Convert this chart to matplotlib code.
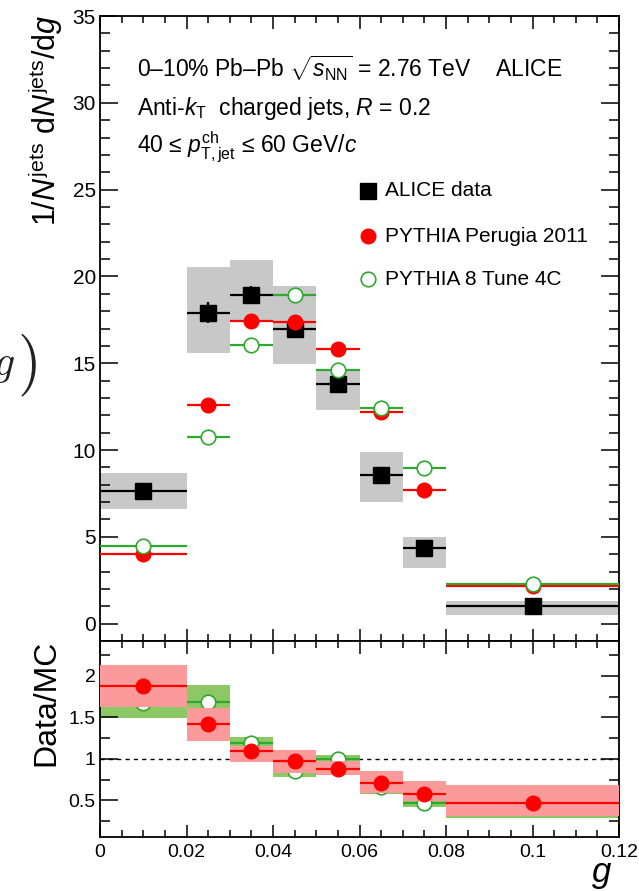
import numpy as np
import matplotlib
matplotlib.use("Agg")
import matplotlib.pyplot as plt
from matplotlib.ticker import MultipleLocator, FuncFormatter

plt.rcParams['font.family'] = ['Liberation Sans', 'DejaVu Sans']
plt.rcParams['mathtext.fontset'] = 'custom'
plt.rcParams['mathtext.rm'] = 'Liberation Sans'
plt.rcParams['mathtext.it'] = 'Liberation Sans:italic'
plt.rcParams['mathtext.bf'] = 'Liberation Sans:bold'

# bins in g
edges = [0, 0.02, 0.03, 0.04, 0.05, 0.06, 0.07, 0.08, 0.12]
centers = [0.01, 0.025, 0.035, 0.045, 0.055, 0.065, 0.075, 0.1]

# ALICE data, 1/N dN/dg
alice = [7.64, 17.9, 18.95, 16.98, 13.8, 8.55, 4.37, 1.0]
alice_stat = [0.25, 0.6, 0.5, 0.55, 0.4, 0.3, 0.2, 0.1]
alice_sys_up = [1.06, 2.65, 2.02, 2.45, 0.79, 1.31, 0.62, 0.29]
alice_sys_dn = [1.01, 2.32, 1.45, 2.0, 1.52, 1.54, 1.15, 0.5]

# MC predictions
perugia = [4.03, 12.59, 17.46, 17.37, 15.81, 12.17, 7.68, 2.15]
tune4c = [4.45, 10.76, 16.06, 18.95, 14.62, 12.44, 8.99, 2.29]

# Data/MC ratios with systematic band limits
ratio_perugia = [1.875, 1.42, 1.09, 0.97, 0.876, 0.71, 0.58, 0.47]
ratio_perugia_stat = [0.08, 0.05, 0.04, 0.03, 0.03, 0.03, 0.03, 0.03]
ratio_perugia_lo = [1.62, 1.21, 0.96, 0.83, 0.81, 0.59, 0.49, 0.31]
ratio_perugia_hi = [2.13, 1.61, 1.16, 1.11, 0.98, 0.85, 0.73, 0.69]

ratio_tune4c = [1.67, 1.68, 1.19, 0.85, 1.0, 0.66, 0.47, 0.44]
ratio_tune4c_lo = [1.49, 1.46, 1.08, 0.78, 0.93, 0.58, 0.42, 0.29]
ratio_tune4c_hi = [1.87, 1.89, 1.27, 0.93, 1.05, 0.76, 0.55, 0.6]

gray = '#c8c8c8'
red = '#ff0000'
green = '#2fa82f'
red_band = '#fa9a9a'
green_band = '#8cc863'

edges = np.array(edges)
lefts = edges[:-1]
widths = np.diff(edges)
halfw = widths / 2

fig = plt.figure(figsize=(6.39, 8.91), dpi=100)
ax = fig.add_axes([100/639, 1-641/891, 519/639, 625/891])
axr = fig.add_axes([100/639, 1-837/891, 519/639, 196/891])

# ---- top panel ----
lo = np.array(alice) - np.array(alice_sys_dn)
hi = np.array(alice) + np.array(alice_sys_up)
ax.bar(lefts, hi - lo, width=widths, bottom=lo, align='edge', color=gray, lw=0, zorder=1)
ax.errorbar(centers, alice, xerr=halfw, yerr=alice_stat, fmt='s', color='black',
            ms=12, lw=1.6, capsize=0, zorder=3)
ax.errorbar(centers, perugia, xerr=halfw, fmt='o', color=red, ms=10.5, lw=1.6,
            capsize=0, zorder=4)
ax.errorbar(centers, tune4c, xerr=halfw, fmt='o', color=green, mfc='white', mec=green,
            mew=1.2, ms=10.5, lw=1.6, capsize=0, zorder=4)

ax.set_xlim(0, 0.12)
ax.set_ylim(-1, 35)
ax.yaxis.set_major_locator(MultipleLocator(5))
ax.yaxis.set_minor_locator(MultipleLocator(1))
ax.xaxis.set_major_locator(MultipleLocator(0.02))
ax.xaxis.set_minor_locator(MultipleLocator(0.005))
ax.tick_params(which='both', direction='in', top=True, right=True, labelbottom=False,
               labelsize=15, width=1.1, pad=3)
ax.tick_params(axis='y', which='major', length=13)
ax.tick_params(axis='y', which='minor', length=7)
ax.tick_params(axis='x', which='major', length=9)
ax.tick_params(axis='x', which='minor', length=5)

tfs = 16.5
ax.text(0.071, 0.902, r"0–10% Pb–Pb $\sqrt{s_{\rm NN}}$ = 2.76 TeV    ALICE",
        transform=ax.transAxes, fontsize=tfs, va='baseline')
ax.text(0.071, 0.842, r"Anti-$k_{\rm T}$  charged jets, $R$ = 0.2",
        transform=ax.transAxes, fontsize=tfs, va='baseline')
ax.text(0.071, 0.781, r"40 ≤ $p_{\rm T,jet}^{\rm ch}$ ≤ 60 GeV/$c$",
        transform=ax.transAxes, fontsize=tfs, va='baseline')

# legend
leg_x, leg_tx = 0.516, 0.549
ax.plot([leg_x], [0.72], 's', color='black', ms=12, transform=ax.transAxes)
ax.plot([leg_x], [0.648], 'o', color=red, ms=10.5, transform=ax.transAxes)
ax.plot([leg_x], [0.579], 'o', mfc='white', mec=green, mew=1.2, ms=10.5, transform=ax.transAxes)
ax.text(leg_tx, 0.72, "ALICE data", transform=ax.transAxes, fontsize=15, va='center')
ax.text(leg_tx, 0.648, "PYTHIA Perugia 2011", transform=ax.transAxes, fontsize=15, va='center')
ax.text(leg_tx, 0.579, "PYTHIA 8 Tune 4C", transform=ax.transAxes, fontsize=15, va='center')

# ---- ratio panel ----
glo = np.array(ratio_tune4c_lo)
ghi = np.array(ratio_tune4c_hi)
rlo = np.array(ratio_perugia_lo)
rhi = np.array(ratio_perugia_hi)
axr.axhline(1, color='black', ls=(0, (3, 3)), lw=1.0, zorder=0)
axr.bar(lefts, ghi - glo, width=widths, bottom=glo, align='edge', color=green_band, lw=0, zorder=1)
axr.errorbar(centers, ratio_tune4c, xerr=halfw, fmt='o', color=green, mfc='white', mec=green,
             mew=1.2, ms=10.5, lw=1.6, capsize=0, zorder=2)
axr.bar(lefts, rhi - rlo, width=widths, bottom=rlo, align='edge', color=red_band, lw=0, zorder=3)
axr.errorbar(centers, ratio_perugia, xerr=halfw, yerr=ratio_perugia_stat, fmt='o', color=red,
             ms=10.5, lw=1.6, capsize=0, zorder=4)

axr.set_xlim(0, 0.12)
axr.set_ylim(0.06, 2.42)
axr.yaxis.set_major_locator(MultipleLocator(0.5))
axr.yaxis.set_minor_locator(MultipleLocator(0.25))
axr.xaxis.set_major_locator(MultipleLocator(0.02))
axr.xaxis.set_minor_locator(MultipleLocator(0.005))
fmt = FuncFormatter(lambda v, p: "%g" % round(v, 4))
axr.xaxis.set_major_formatter(fmt)
axr.yaxis.set_major_formatter(fmt)
axr.tick_params(which='both', direction='in', top=True, right=True, labelsize=14, width=1.1)
axr.tick_params(axis='y', which='major', length=13, pad=3)
axr.tick_params(axis='y', which='minor', length=7)
axr.tick_params(axis='x', which='major', length=9, pad=5)
axr.tick_params(axis='x', which='minor', length=5)

for a in (ax, axr):
    for s in a.spines.values():
        s.set_linewidth(1.3)

# axis titles
fig.text(46/639, 1-15/891, r"1/$N^{\rm jets}$ d$N^{\rm jets}$/d$g$", rotation=90,
         ha='center', va='top', fontsize=22)
fig.text(46/639, 1-640/891, "Data/MC", rotation=90, ha='center', va='top', fontsize=23)
fig.text(602/639, 1-882/891, r"$g$", ha='center', va='baseline', fontsize=25)

# cropped neighbouring text at the left edge
fig.text(-7/639, 1-365/891, r"$g$", math_fontfamily='cm',
         fontsize=30, ha='left', va='center', color='#222222')
fig.text(17/639, 1-365/891, r"$)$", math_fontfamily='cm', fontsize=44,
         ha='left', va='center', color='#222222')

fig.savefig("out.png", dpi=100)
